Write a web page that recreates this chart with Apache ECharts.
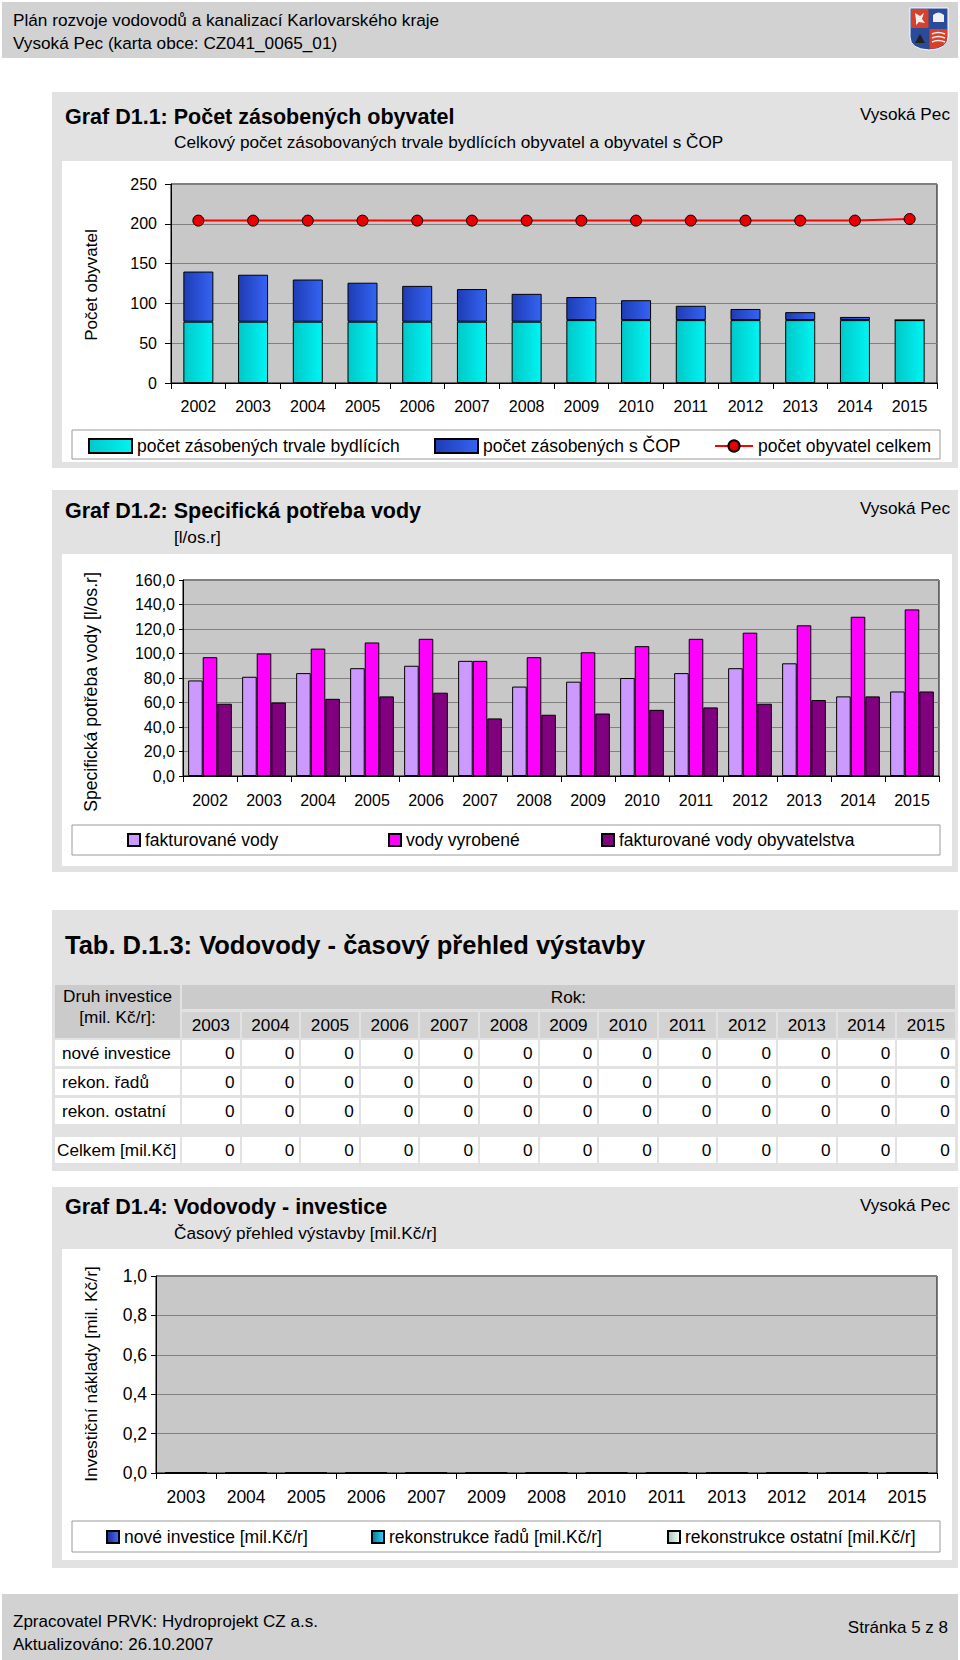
<!DOCTYPE html>
<html><head><meta charset="utf-8">
<script src="https://cdn.jsdelivr.net/npm/echarts@6/dist/echarts.min.js"></script>
<style>
body{margin:0;width:960px;height:1660px;position:relative;background:#fff;font-family:"Liberation Sans",Arial,sans-serif;color:#000;overflow:hidden}
.a{position:absolute}
.t{position:absolute;white-space:nowrap}
.cell{position:absolute;box-sizing:border-box;font-size:17.2px;white-space:nowrap}
</style></head><body>
<script>
// ---- data ----
const years1 = ['2002','2003','2004','2005','2006','2007','2008','2009','2010','2011','2012','2013','2014','2015'];
const trvale = [77,77,77,77,77,77,77,79,79,79,79,79,79,79];
const cop    = [63,59,53,49,45,41,35,29,25,18,14,10,4,0];
const celkem = [204,204,204,204,204,204,204,204,204,204,204,204,204,206];

const years2 = ['2002','2003','2004','2005','2006','2007','2008','2009','2010','2011','2012','2013','2014','2015'];
const fakturovane = [78,81,84,88,90,94,73,77,80,84,88,92,65,69];
const vyrobene    = [97,100,104,109,112,94,97,101,106,112,117,123,130,136];
const fakturObyv  = [59,60,63,65,68,47,50,51,54,56,59,62,65,69];

const tabYears = ['2003','2004','2005','2006','2007','2008','2009','2010','2011','2012','2013','2014','2015'];
const noveInv  = [0,0,0,0,0,0,0,0,0,0,0,0,0];
const rekRadu  = [0,0,0,0,0,0,0,0,0,0,0,0,0];
const rekOst   = [0,0,0,0,0,0,0,0,0,0,0,0,0];
const celkemInv= [0,0,0,0,0,0,0,0,0,0,0,0,0];

const years4 = ['2003','2004','2005','2006','2007','2009','2008','2010','2011','2013','2012','2014','2015'];
const inv4Nove = [0,0,0,0,0,0,0,0,0,0,0,0,0];
const inv4Radu = [0,0,0,0,0,0,0,0,0,0,0,0,0];
const inv4Ost  = [0,0,0,0,0,0,0,0,0,0,0,0,0];
</script>

<!-- header -->
<div class="a" style="left:2px;top:2px;width:956px;height:56px;background:#d2d2d2"></div>
<div class="t" style="left:13px;top:12px;font-size:17.2px;line-height:17.2px">Plán rozvoje vodovodů a kanalizací Karlovarského kraje</div>
<div class="t" style="left:13px;top:35px;font-size:17.2px;line-height:17.2px">Vysoká Pec (karta obce: CZ041_0065_01)</div>
<svg class="a" style="left:909px;top:7px" width="40" height="44" viewBox="0 0 40 44">
  <path d="M1 1 H39 V30 Q39 42 20 43 Q1 42 1 30 Z" fill="#2a4a9a" stroke="#fff" stroke-width="1"/>
  <rect x="2" y="2" width="17.5" height="19" fill="#d8402a"/>
  <rect x="20.5" y="2" width="17.5" height="19" fill="#2a4a9a"/>
  <path d="M20.5 22 H38 V30 Q38 41 20.5 42 Z" fill="#d8402a"/>
  <path d="M6 6 l5 3 l4 -3 l-2 6 l3 4 l-6 -1 l-3 3 l0 -5 z" fill="#f0f0f0"/>
  <path d="M24 15 h11 v-7 q-5.5 -5 -11 0 z" fill="#f0f0f0"/>
  <path d="M6 36 l5 -9 l5 9 z" fill="#222"/>
  <path d="M23 27 q6 -3 13 0 M23 31 q6 -3 13 0 M23 35 q6 -3 13 0" stroke="#f0f0f0" stroke-width="1.5" fill="none"/>
</svg>

<!-- panel 1 -->
<div class="a" style="left:52px;top:92px;width:906px;height:376px;background:#e2e2e2"></div>
<div class="t" style="left:65px;top:107px;font-size:21.5px;line-height:21.5px;font-weight:bold">Graf D1.1: Počet zásobených obyvatel</div>
<div class="t" style="left:174px;top:134px;font-size:17.2px;line-height:17.2px">Celkový počet zásobovaných trvale bydlících obyvatel a obyvatel s ČOP</div>
<div class="t" style="right:10px;top:106px;font-size:17.2px;line-height:17.2px">Vysoká Pec</div>
<div id="c1" class="a" style="left:62px;top:161px;width:890px;height:301px;background:#fff"></div>

<!-- panel 2 -->
<div class="a" style="left:52px;top:490px;width:906px;height:382px;background:#e2e2e2"></div>
<div class="t" style="left:65px;top:501px;font-size:21.5px;line-height:21.5px;font-weight:bold">Graf D1.2: Specifická potřeba vody</div>
<div class="t" style="left:174px;top:529px;font-size:17.2px;line-height:17.2px">[l/os.r]</div>
<div class="t" style="right:10px;top:500px;font-size:17.2px;line-height:17.2px">Vysoká Pec</div>
<div id="c2" class="a" style="left:62px;top:554px;width:890px;height:312px;background:#fff"></div>

<!-- table panel -->
<div class="a" style="left:52px;top:910px;width:906px;height:261px;background:#e2e2e2"></div>
<div class="t" style="left:65px;top:933px;font-size:25.5px;line-height:25.5px;font-weight:bold">Tab. D.1.3: Vodovody - časový přehled výstavby</div>
<div id="tab"></div>

<!-- panel 4 -->
<div class="a" style="left:52px;top:1187px;width:906px;height:381px;background:#e2e2e2"></div>
<div class="t" style="left:65px;top:1197px;font-size:21.5px;line-height:21.5px;font-weight:bold">Graf D1.4: Vodovody - investice</div>
<div class="t" style="left:174px;top:1225px;font-size:17.2px;line-height:17.2px">Časový přehled výstavby [mil.Kč/r]</div>
<div class="t" style="right:10px;top:1197px;font-size:17.2px;line-height:17.2px">Vysoká Pec</div>
<div id="c4" class="a" style="left:62px;top:1249px;width:890px;height:311px;background:#fff"></div>

<!-- footer -->
<div class="a" style="left:2px;top:1594px;width:956px;height:66px;background:#d2d2d2"></div>
<div class="t" style="left:13px;top:1613px;font-size:17px;line-height:17px">Zpracovatel PRVK: Hydroprojekt CZ a.s.</div>
<div class="t" style="left:13px;top:1636px;font-size:17px;line-height:17px">Aktualizováno: 26.10.2007</div>
<div class="t" style="right:12px;top:1619px;font-size:17px;line-height:17px">Stránka 5 z 8</div>

<script>
const FF = '"Liberation Sans", Arial, sans-serif';
const G = echarts.graphic.LinearGradient;
function grad(c0, c1){ return new G(0,0,1,0,[{offset:0,color:c0},{offset:1,color:c1}]); }
const comma1 = v => v.toFixed(1).replace('.', ',');

function baseAxes(gridBox, cats, yCfg, xMargin, yMargin, yTick, xFont){
  return {
    animation:false,
    grid: Object.assign({show:true, backgroundColor:'#c8c8c8', borderColor:'#000', borderWidth:1}, gridBox),
    xAxis: {type:'category', data:cats, boundaryGap:true,
      axisLine:{lineStyle:{color:'#000', width:1}},
      axisTick:{show:true, length:6, lineStyle:{color:'#000'}},
      axisLabel:{color:'#000', fontSize:xFont || 16, fontFamily:FF, margin:xMargin, interval:0}},
    yAxis: Object.assign({type:'value',
      axisLine:{show:true, lineStyle:{color:'#000', width:1}},
      axisTick:{show:true, length:yTick, lineStyle:{color:'#000'}},
      axisLabel:{color:'#000', fontSize:16, fontFamily:FF, margin:yMargin},
      splitLine:{show:true, lineStyle:{color:'#808080', width:1}}}, yCfg)
  };
}
const lg = (name, left, top, w, h) => ({data:[name], left, top, itemWidth:w, itemHeight:h, padding:0, itemGap:0,
  selectedMode:false, textStyle:{color:'#000', fontSize:17.5, fontFamily:FF}});
const boxRect = (y, h) => ({type:'rect', z:-1, silent:true, shape:{x:10, y, width:868, height:h}, style:{fill:'#fff', stroke:'#9a9a9a', lineWidth:1}});
const yName = (text, y, size) => ({type:'text', x:29, y, rotation:Math.PI/2, silent:true,
  style:{text, fontSize:size, fontFamily:FF, fill:'#000', align:'center', verticalAlign:'middle'}});

// ---- chart 1 ----
const c1 = echarts.init(document.getElementById('c1'), null, {renderer:'svg'});
const o1 = baseAxes({left:109, top:23, width:766, height:199}, years1, {min:0, max:250, interval:50}, 15, 14, 6);
o1.series = [
  {name:'počet zásobených trvale bydlících', type:'bar', stack:'s', data:trvale, barWidth:30,
   itemStyle:{color:grad('#00c8c8','#00f4f4'), borderColor:'#000', borderWidth:1}},
  {name:'počet zásobených s ČOP', type:'bar', stack:'s', data:cop, barWidth:30,
   itemStyle:{color:grad('#1e3cb4','#3464f4'), borderColor:'#000', borderWidth:1}},
  {name:'počet obyvatel celkem', type:'line', data:celkem, symbol:'circle', symbolSize:11,
   lineStyle:{color:'#ff0000', width:2}, itemStyle:{color:'#e80000', borderColor:'#000', borderWidth:1}}
];
o1.legend = [
  Object.assign(lg('počet zásobených trvale bydlících', 26, 276, 43, 14), {icon:'rect'}),
  Object.assign(lg('počet zásobených s ČOP', 372, 276, 43, 14), {icon:'rect'}),
  lg('počet obyvatel celkem', 652, 276, 38, 14)
];
o1.graphic = [ boxRect(269, 29), yName('Počet obyvatel', 124, 17) ];
c1.setOption(o1);

// ---- chart 2 ----
const c2 = echarts.init(document.getElementById('c2'), null, {renderer:'svg'});
const o2 = baseAxes({left:121, top:26, width:756, height:196}, years2,
  {min:0, max:160, interval:20, axisLabel:{color:'#000', fontSize:16, fontFamily:FF, margin:8, formatter:comma1}}, 16, 8, 4);
const b2 = {type:'bar', barGap:'0%', barCategoryGap:'19%'};
o2.series = [
  Object.assign({name:'fakturované vody', data:fakturovane, itemStyle:{color:'#cc99ff', borderColor:'#000', borderWidth:1}}, b2),
  Object.assign({name:'vody vyrobené', data:vyrobene, itemStyle:{color:'#ff00ff', borderColor:'#000', borderWidth:1}}, b2),
  Object.assign({name:'fakturované vody obyvatelstva', data:fakturObyv, itemStyle:{color:'#800080', borderColor:'#000', borderWidth:1}}, b2)
];
o2.legend = [
  Object.assign(lg('fakturované vody', 65, 277, 12, 12), {icon:'rect'}),
  Object.assign(lg('vody vyrobené', 326, 277, 12, 12), {icon:'rect'}),
  Object.assign(lg('fakturované vody obyvatelstva', 539, 277, 12, 12), {icon:'rect'})
];
o2.graphic = [ boxRect(271, 30), yName('Specifická potřeba vody [l/os.r]', 138, 17.6) ];
c2.setOption(o2);

// ---- chart 4 ----
const c4 = echarts.init(document.getElementById('c4'), null, {renderer:'svg'});
const o4 = baseAxes({left:94, top:27, width:781, height:197}, years4,
  {min:0, max:1, interval:0.2, axisLabel:{color:'#000', fontSize:17.5, fontFamily:FF, margin:9, formatter:comma1}}, 15, 9, 5, 17.5);
o4.series = [
  {name:'nové investice [mil.Kč/r]', type:'bar', stack:'i', data:inv4Nove, itemStyle:{color:grad('#1a2a8a','#4a6cff'), borderColor:'#000', borderWidth:1}},
  {name:'rekonstrukce řadů [mil.Kč/r]', type:'bar', stack:'i', data:inv4Radu, itemStyle:{color:grad('#007a9a','#38d0ff'), borderColor:'#000', borderWidth:1}},
  {name:'rekonstrukce ostatní [mil.Kč/r]', type:'bar', stack:'i', data:inv4Ost, itemStyle:{color:grad('#a8c0b8','#f4fffa'), borderColor:'#000', borderWidth:1}}
];
o4.legend = [
  Object.assign(lg('nové investice [mil.Kč/r]', 44, 279, 12, 12), {icon:'rect'}),
  Object.assign(lg('rekonstrukce řadů [mil.Kč/r]', 309, 279, 12, 12), {icon:'rect'}),
  Object.assign(lg('rekonstrukce ostatní [mil.Kč/r]', 605, 279, 12, 12), {icon:'rect'})
];
o4.graphic = [ boxRect(272, 31), yName('Investiční náklady [mil. Kč/r]', 125, 17.4) ];
c4.setOption(o4);

// ---- table ----
(function(){
  const tab = document.getElementById('tab');
  const col0 = 55, col0w = 125, cx0 = 182, cw = 59.6, gap = 2;
  function cell(x, y, w, h, html, opts){
    const d = document.createElement('div');
    d.className = 'cell';
    d.style.left = x+'px'; d.style.top = y+'px'; d.style.width = w+'px'; d.style.height = h+'px';
    d.style.background = opts.bg || '#fff';
    d.style.textAlign = opts.align || 'left';
    d.style.padding = opts.pad || '0';
    d.style.lineHeight = (opts.lh || h) + 'px';
    d.innerHTML = html;
    tab.appendChild(d);
  }
  const hdr = '#cbcbcb';
  cell(col0, 985, col0w, 53, 'Druh investice<br>[mil. Kč/r]:', {bg:hdr, align:'center', lh:21, pad:'1px 0 0 0'});
  cell(cx0, 985, cw*13 - gap, 24, 'Rok:', {bg:hdr, align:'center'});
  tabYears.forEach((y,i)=> cell(cx0 + i*cw, 1012, cw - gap, 26, y, {bg:'#d3d3d3', align:'center'}));
  const rows = [
    ['nové investice', noveInv, 1040, '0 0 0 7px'],
    ['rekon. řadů', rekRadu, 1069, '0 0 0 7px'],
    ['rekon. ostatní', rekOst, 1098, '0 0 0 7px'],
    ['Celkem [mil.Kč]', celkemInv, 1137, '0 0 0 2px']
  ];
  rows.forEach(r=>{
    cell(col0, r[2], col0w, 26, r[0], {pad:r[3]});
    r[1].forEach((v,i)=> cell(cx0 + i*cw, r[2], cw - gap, 26, String(v), {align:'right', pad:'0 5px 0 0'}));
  });
})();
</script>
</body></html>
